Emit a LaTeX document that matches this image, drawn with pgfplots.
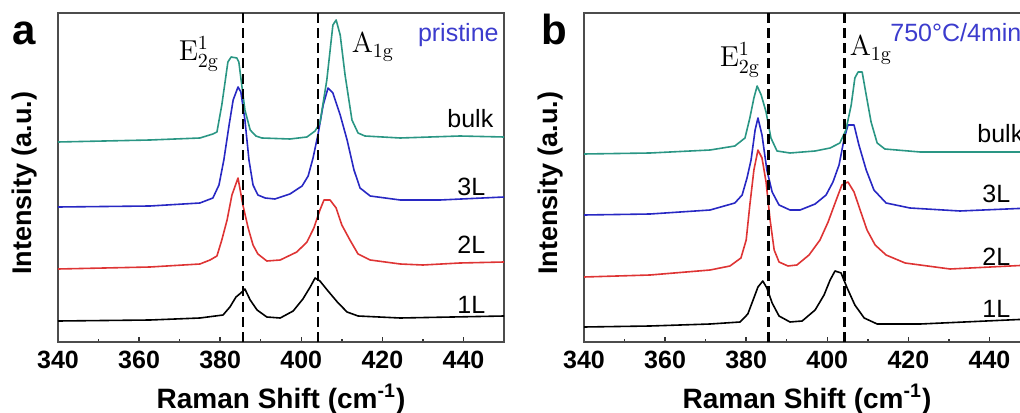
\documentclass[border=0pt]{standalone}
\usepackage[no-math]{fontspec}
\setmainfont{Liberation Sans}
\usepackage{pgfplots}
\pgfplotsset{compat=1.18}

\definecolor{cteal}{RGB}{42,150,132}
\definecolor{cblue}{RGB}{40,40,195}
\definecolor{cred}{RGB}{222,52,52}
\definecolor{lblue}{RGB}{60,60,205}

\pgfplotsset{myax/.style={
  scale only axis, width=223pt, height=164.5pt,
  xmin=340, xmax=450, ymin=0, ymax=329,
  xtick={340,360,...,440}, minor xtick={350,370,...,450}, ytick=\empty,
  xtick pos=left, tick align=inside,
  major tick length=2.6pt, minor tick length=1.6pt,
  axis line style={black!70, line width=0.8pt},
  every tick/.style={black!80, line width=0.7pt},
  clip=false,
  /pgf/number format/assume math mode=true,
  xticklabel style={font=\fontsize{12.5}{14}\selectfont\bfseries, yshift=-1.2pt},
  xlabel={Raman Shift (cm\textsuperscript{-1})},
  xlabel style={font=\fontsize{14}{16}\selectfont\bfseries, at={(axis description cs:0.5,0)}, anchor=north, yshift=-17.5pt},
  ylabel={Intensity (a.u.)},
  ylabel style={font=\fontsize{13.5}{16}\selectfont\bfseries, at={(axis description cs:-0.075,0.483)}, anchor=center},
  every axis plot/.append style={line width=0.8pt, line join=round},
}}

\begin{document}
\begin{tikzpicture}[x=0.5pt,y=0.5pt]
% ---------------- panel a ----------------
\begin{axis}[myax, at={(29pt,35pt)}, anchor=south west]
\addplot[color=black] coordinates {
(340,21) (362.7,22) (375.0,24) (380.7,27) (382.4,35) (383.9,45) (385.1,49) (386.1,53)
(387.4,42) (389.1,32) (391.5,25) (394.8,24) (398.0,31) (400.4,43) (402.2,55) (403.4,64)
(404.6,61) (406.6,51) (409.1,39) (411.3,30) (414.0,26) (424.4,24) (450,26)};
\addplot[color=cred] coordinates {
(340,73) (362.7,75) (375.0,78) (377.5,82) (379.2,86) (380.4,102) (381.7,122) (382.9,147)
(384.4,164) (385.6,137) (386.9,114) (388.1,97) (389.3,88) (391.5,81) (394.8,82) (398.9,90)
(401.4,100) (403.1,114) (404.6,132) (405.6,142) (407.1,142) (408.6,134) (410.0,117)
(412.0,102) (414.0,88) (417.0,82) (424.4,78) (430.0,77) (439.1,79) (450,80)};
\addplot[color=cblue] coordinates {
(340,135) (362.7,136) (375.0,139) (378.2,144) (379.7,157) (380.9,182) (382.2,217)
(383.2,242) (384.4,255) (385.1,250) (386.1,222) (387.1,182) (388.1,157) (389.3,147)
(391.1,144) (393.5,143) (397.2,148) (400.2,156) (401.7,166) (402.9,184) (404.1,207)
(405.4,237) (406.6,254) (407.8,249) (409.6,227) (411.3,202) (413.0,172) (414.5,154)
(417.0,146) (424.4,142) (434.2,142) (450,145)};
\addplot[color=cteal] coordinates {
(340,200) (362.7,202) (375.0,204) (378.2,208) (379.2,210) (380.4,237) (381.9,280)
(382.7,285) (384.1,284) (384.6,280) (386.1,232) (387.4,212) (388.8,206) (390.3,204)
(397.2,203) (401.4,205) (403.4,211) (404.6,219) (406.3,262) (407.8,317) (408.6,322)
(409.6,307) (410.8,267) (412.5,222) (414.0,209) (415.7,206) (424.4,204) (439.1,206) (450,205)};
\addplot[black, line width=1.3pt, dash pattern=on 5pt off 2.6pt] coordinates {(385.6,0) (385.6,329)};
\addplot[black, line width=1.3pt, dash pattern=on 5pt off 2.6pt] coordinates {(404.1,0) (404.1,329)};
\end{axis}
% ---------------- panel b ----------------
\begin{axis}[myax, at={(292pt,35pt)}, anchor=south west]
\addplot[color=black] coordinates {
(340,15) (356.3,16) (371.1,18) (378.5,20) (380.4,28) (381.7,42) (382.9,55) (384.1,61)
(385.1,54) (386.4,39) (388.1,26) (390.8,20) (393.8,21) (397.0,32) (399.2,47) (400.7,62)
(401.9,71) (403.4,69) (404.9,54) (406.8,37) (409.1,24) (412.3,18) (422.9,18) (450,23)};
\addplot[color=cred] coordinates {
(340,65) (356.3,67) (371.1,72) (376.0,76) (378.7,84) (380.0,102) (380.9,137) (381.9,172)
(382.9,192) (383.9,184) (384.9,160) (385.9,122) (386.9,92) (388.1,80) (390.3,76)
(392.5,77) (395.5,87) (398.2,102) (400.2,120) (402.2,142) (403.6,157) (405.1,160)
(406.6,150) (408.1,132) (409.8,112) (411.8,97) (414.5,87) (419.2,79) (430.3,73) (450,77)};
\addplot[color=cblue] coordinates {
(340,127) (356.3,128) (371.1,132) (377.2,139) (379.0,147) (380.2,164) (381.2,182)
(382.2,212) (382.9,224) (383.9,207) (385.1,172) (386.4,150) (388.1,137) (390.8,132)
(393.3,132) (397.0,138) (399.7,147) (401.4,160) (402.9,177) (404.1,202) (405.1,217)
(406.6,217) (407.8,197) (409.6,172) (411.5,152) (414.5,139) (420.4,134) (432.7,131) (450,134)};
\addplot[color=cteal] coordinates {
(340,188) (356.3,189) (371.1,192) (377.2,196) (379.7,204) (380.9,224) (381.9,244)
(382.7,256) (383.7,247) (384.9,230) (386.1,204) (387.6,191) (390.8,189) (397.0,191)
(400.7,194) (403.1,199) (404.6,212) (405.9,237) (406.8,264) (407.6,270) (408.6,270)
(409.6,247) (410.8,220) (412.3,199) (414.2,193) (422.9,190) (437.7,190) (450,190)};
\addplot[black, line width=1.3pt, dash pattern=on 5pt off 2.6pt] coordinates {(385.5,0) (385.5,329)};
\addplot[black, line width=1.3pt, dash pattern=on 5pt off 2.6pt] coordinates {(404.2,0) (404.2,329)};
\end{axis}
% ---------------- annotations ----------------
\tikzset{lab/.style={inner sep=0pt, font=\fontsize{12.5}{14}\selectfont},
         pan/.style={inner sep=0pt, font=\fontsize{21}{24}\selectfont\bfseries},
         mode/.style={inner sep=0pt, font=\fontsize{14.5}{16}\selectfont}}
\node[pan, anchor=base west] at (12,367) {a};
\node[pan, anchor=base west] at (541,367) {b};
\node[mode] at (199,358) {$\mathrm{E}^{1}_{\mathrm{2g}}$};
\node[mode] at (373,365) {$\mathrm{A}_{\mathrm{1g}}$};
\node[mode] at (740,352) {$\mathrm{E}^{1}_{\mathrm{2g}}$};
\node[mode] at (871,362) {$\mathrm{A}_{\mathrm{1g}}$};
\node[lab, anchor=base east, text=lblue] at (499,370) {pristine};
\node[lab, anchor=base west, text=lblue] at (890,370) {750°C/4min};
\node[lab, anchor=base west] at (447,284) {bulk};
\node[lab, anchor=base west] at (457,216) {3L};
\node[lab, anchor=base west] at (457,158) {2L};
\node[lab, anchor=base west] at (457,99) {1L};
\node[lab, anchor=base west] at (977,269) {bulk};
\node[lab, anchor=base west] at (982,209) {3L};
\node[lab, anchor=base west] at (982,147) {2L};
\node[lab, anchor=base west] at (982,95) {1L};
\pgfresetboundingbox
\path[use as bounding box] (0,0) rectangle (1020,412);
\end{tikzpicture}
\end{document}
